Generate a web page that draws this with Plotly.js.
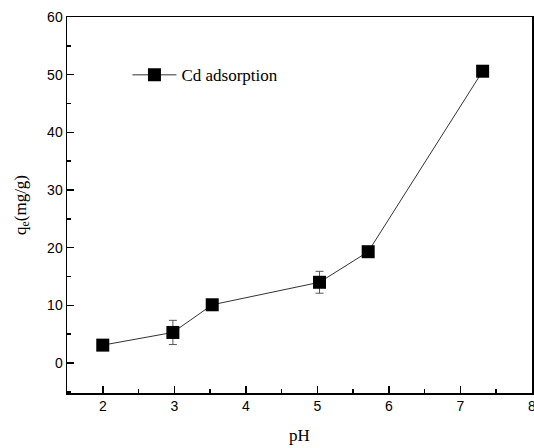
<!DOCTYPE html>
<html>
<head>
<meta charset="utf-8">
<script src="https://cdn.plot.ly/plotly-3.0.1.min.js"></script>
<style>html,body{margin:0;padding:0;background:#fff;}#chart{width:534px;height:448px;}</style>
</head>
<body>
<div id="chart"></div>
<script>
const pH = [2.0, 2.98, 3.53, 5.03, 5.71, 7.31];
const qe = [3.1, 5.3, 10.1, 14.0, 19.3, 50.6];
const qeErr = [0.4, 2.1, 0.5, 1.9, 0.4, 0.4];
const seriesName = "Cd adsorption";
const xTitle = "pH";
const yTitle = "q<sub>e</sub>(mg/g)";

const trace = {
  x: pH, y: qe, type: "scatter", mode: "lines+markers", name: seriesName,
  line: {color: "#333333", width: 1},
  marker: {symbol: "square", size: 13, color: "#000000"},
  error_y: {type: "data", array: qeErr, visible: true, color: "#555555", thickness: 1, width: 4},
  showlegend: true
};

const axisCommon = {
  showline: true, linecolor: "#000", linewidth: 1.5, mirror: true,
  ticks: "inside", ticklen: 7, tickwidth: 1.5, tickcolor: "#000",
  showgrid: false, zeroline: false, ticklabeloverflow: "allow",
  tickfont: {family: "Liberation Sans, Arial, sans-serif", size: 14, color: "#000"},
  minor: {ticks: "inside", ticklen: 4, tickwidth: 1.5, tickcolor: "#000", showgrid: false}
};

const layout = {
  width: 534, height: 448,
  margin: {l: 67, r: 2, t: 17, b: 55},
  paper_bgcolor: "#fff", plot_bgcolor: "#fff",
  showlegend: true,
  legend: {x: 0.13, y: 0.845, xanchor: "left", yanchor: "middle", bgcolor: "rgba(0,0,0,0)",
    itemwidth: 44,
    font: {family: "Liberation Serif, Times New Roman, serif", size: 17, color: "#000"}},
  xaxis: Object.assign({}, axisCommon, {
    range: [1.5, 8], dtick: 1, tick0: 0,
    minor: Object.assign({}, axisCommon.minor, {dtick: 0.5}),
    title: {text: xTitle, standoff: 16, font: {family: "Liberation Serif, Times New Roman, serif", size: 17, color: "#000"}}
  }),
  yaxis: Object.assign({}, axisCommon, {
    range: [-5.2, 60], dtick: 10, tick0: 0,
    minor: Object.assign({}, axisCommon.minor, {dtick: 5}),
    title: {text: yTitle, standoff: 16, font: {family: "Liberation Serif, Times New Roman, serif", size: 17, color: "#000"}}
  })
};

Plotly.newPlot("chart", [trace], layout, {displayModeBar: false, staticPlot: true});
</script>
</body>
</html>
